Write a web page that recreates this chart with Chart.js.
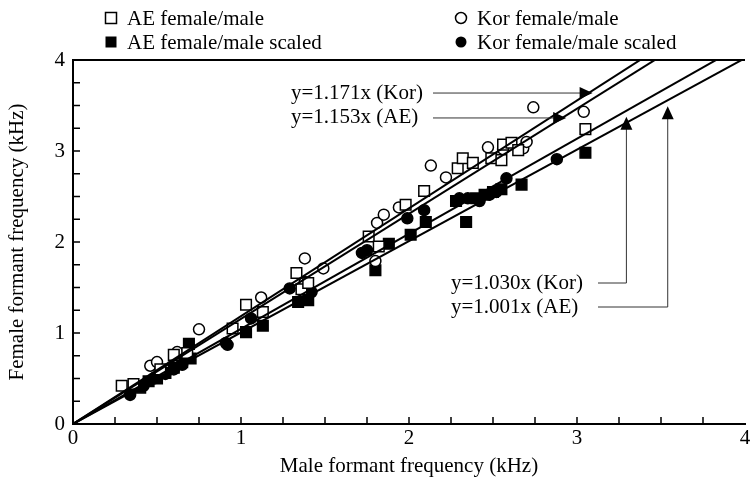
<!DOCTYPE html>
<html>
<head>
<meta charset="utf-8">
<script src="https://cdn.jsdelivr.net/npm/chart.js@4"></script>
<style>
  html, body { margin: 0; padding: 0; background: #fff; }
  #wrap { width: 754px; height: 485px; }
</style>
</head>
<body>
<div id="wrap"><canvas id="chart" width="754" height="485"></canvas></div>
<script>
// --- Data (kHz) ---
const aeRaw = [
    [0.29, 0.42], [0.36, 0.44], [0.52, 0.60], [0.60, 0.76], [0.68, 0.78],
    [0.95, 1.05], [1.03, 1.31], [1.13, 1.23], [1.33, 1.66], [1.36, 1.48],
    [1.40, 1.55], [1.76, 2.06], [1.82, 1.95], [1.98, 2.41], [2.09, 2.56],
    [2.29, 2.81], [2.32, 2.92], [2.38, 2.87], [2.49, 2.92], [2.55, 2.90],
    [2.56, 3.07], [2.61, 3.09], [2.65, 3.01], [3.05, 3.24]
];
const korRaw = [
    [0.46, 0.64], [0.50, 0.68], [0.62, 0.79], [0.75, 1.04], [1.12, 1.39],
    [1.38, 1.82], [1.38, 1.56], [1.49, 1.71], [1.80, 1.79], [1.81, 2.21],
    [1.85, 2.30], [1.94, 2.38], [2.13, 2.84], [2.22, 2.71], [2.47, 3.04],
    [2.56, 3.02], [2.68, 3.03], [2.70, 3.10], [2.74, 3.48], [3.04, 3.43]
];
const aeScaled = [
    [0.40, 0.40], [0.45, 0.47], [0.50, 0.50], [0.55, 0.56], [0.60, 0.62],
    [0.65, 0.68], [0.70, 0.72], [0.69, 0.88], [1.03, 1.01], [1.13, 1.08],
    [1.34, 1.34], [1.40, 1.36], [1.80, 1.69], [1.88, 1.98], [2.01, 2.08],
    [2.10, 2.22], [2.28, 2.45], [2.34, 2.22], [2.40, 2.48], [2.45, 2.52],
    [2.50, 2.55], [2.55, 2.58], [2.67, 2.63], [3.05, 2.98]
];
const korScaled = [
    [0.34, 0.32], [0.42, 0.42], [0.48, 0.50], [0.55, 0.55], [0.60, 0.60],
    [0.65, 0.65], [0.91, 0.89], [0.92, 0.87], [1.06, 1.16], [1.29, 1.49],
    [1.42, 1.45], [1.72, 1.88], [1.75, 1.91], [1.99, 2.26], [2.09, 2.35],
    [2.30, 2.48], [2.35, 2.48], [2.42, 2.45], [2.48, 2.52], [2.52, 2.55],
    [2.58, 2.70], [2.88, 2.91]
];

// fitted lines as drawn (slope of y = a*x)
const fitSlopes = [1.185, 1.155, 1.045, 1.005];
const fitLabels = ['y=1.171x (Kor)', 'y=1.153x (AE)', 'y=1.030x (Kor)', 'y=1.001x (AE)'];
const axisTicks = [0, 1, 2, 3, 4];

const FONT = '"Liberation Serif", "DejaVu Serif", serif';
const FSIZE = 21;

const toPts = arr => arr.map(([x, y]) => ({ x, y }));
const fitLine = a => [{ x: 0, y: 0 }, { x: 4.2, y: 4.2 * a }];

// --- Extra drawing: frame, inward ticks, legend, callouts ---
const decorPlugin = {
    id: 'decor',
    afterDraw(chart) {
        const { ctx, chartArea: area, scales } = chart;
        const xs = scales.x, ys = scales.y;
        ctx.save();
        ctx.strokeStyle = '#000';
        ctx.fillStyle = '#000';

        // top frame line
        ctx.lineWidth = 2;
        ctx.beginPath();
        ctx.moveTo(area.left, area.top);
        ctx.lineTo(area.right, area.top);
        ctx.stroke();

        // inward ticks every 0.25
        ctx.lineWidth = 1.5;
        for (let v = 0.25; v < 4; v += 0.25) {
            const px = xs.getPixelForValue(v);
            const py = ys.getPixelForValue(v);
            ctx.beginPath();
            ctx.moveTo(px, area.bottom);
            ctx.lineTo(px, area.bottom - 7);
            ctx.moveTo(area.left, py);
            ctx.lineTo(area.left + 7, py);
            ctx.stroke();
        }

        // legend
        ctx.font = FSIZE + 'px ' + FONT;
        ctx.textBaseline = 'middle';
        ctx.textAlign = 'left';
        const legend = [
            { label: 'AE female/male', x: 111, y: 18, shape: 'rect', fill: false },
            { label: 'AE female/male scaled', x: 111, y: 42, shape: 'rect', fill: true },
            { label: 'Kor female/male', x: 461, y: 18, shape: 'circle', fill: false },
            { label: 'Kor female/male scaled', x: 461, y: 42, shape: 'circle', fill: true }
        ];
        legend.forEach(item => {
            ctx.beginPath();
            ctx.lineWidth = 1.5;
            if (item.shape === 'rect') {
                ctx.rect(item.x - 5.5, item.y - 5.5, 11, 11);
            } else {
                ctx.arc(item.x, item.y, 5.5, 0, Math.PI * 2);
            }
            if (item.fill) ctx.fill(); else ctx.stroke();
            ctx.fillText(item.label, item.x + 16, item.y + 1);
        });

        // callouts pointing at the fitted lines
        const arrowHead = (tx, ty, dir) => {
            ctx.beginPath();
            if (dir === 'right') {
                ctx.moveTo(tx, ty);
                ctx.lineTo(tx - 13, ty - 6);
                ctx.lineTo(tx - 13, ty + 6);
            } else {
                ctx.moveTo(tx, ty);
                ctx.lineTo(tx - 6, ty + 13);
                ctx.lineTo(tx + 6, ty + 13);
            }
            ctx.closePath();
            ctx.fill();
        };
        ctx.lineWidth = 1;
        ctx.strokeStyle = '#333';

        // horizontal arrows (upper pair), anchored at a y value
        [[0, 3.637], [1, 3.363]].forEach(([i, yv]) => {
            const py = ys.getPixelForValue(yv);
            const tx = xs.getPixelForValue(yv / fitSlopes[i]) + 4;
            ctx.fillText(fitLabels[i], 291, py);
            ctx.beginPath();
            ctx.moveTo(433, py);
            ctx.lineTo(tx - 10, py);
            ctx.stroke();
            arrowHead(tx, py, 'right');
        });

        // elbow arrows (lower pair), anchored at an x value
        [[2, 3.294, 283], [3, 3.54, 307]].forEach(([i, xv, ly]) => {
            const px = xs.getPixelForValue(xv);
            const ty = ys.getPixelForValue(xv * fitSlopes[i]) + 6;
            ctx.fillText(fitLabels[i], 451, ly);
            ctx.beginPath();
            ctx.moveTo(598, ly);
            ctx.lineTo(px, ly);
            ctx.lineTo(px, ty + 10);
            ctx.stroke();
            arrowHead(px, ty, 'up');
        });

        ctx.restore();
    }
};

const pointSet = (data, style, filled, radius) => ({
    data: toPts(data),
    showLine: false,
    pointStyle: style,
    pointRadius: radius,
    pointBorderWidth: 1.5,
    pointBorderColor: '#000',
    pointBackgroundColor: filled ? '#000' : '#fff',
    order: 2
});

const lineSet = a => ({
    data: fitLine(a),
    showLine: true,
    borderColor: '#000',
    borderWidth: 2,
    pointRadius: 0,
    order: 1
});

new Chart(document.getElementById('chart'), {
    type: 'scatter',
    data: {
        datasets: [
            ...fitSlopes.map(lineSet),
            pointSet(aeRaw, 'rect', false, 7.5),
            pointSet(korRaw, 'circle', false, 5.5),
            pointSet(aeScaled, 'rect', true, 7.5),
            pointSet(korScaled, 'circle', true, 5.5)
        ]
    },
    options: {
        responsive: false,
        animation: false,
        layout: { padding: { top: 60, left: 0, right: 0, bottom: 0 } },
        plugins: {
            legend: { display: false },
            tooltip: { enabled: false }
        },
        scales: {
            x: {
                type: 'linear',
                min: 0,
                max: 4,
                afterBuildTicks: s => { s.ticks = axisTicks.map(v => ({ value: v })); },
                afterFit: s => { s.height = 61; s.paddingLeft = 0; s.paddingRight = 0; },
                grid: { display: false, drawTicks: false },
                border: { display: true, width: 2, color: '#000' },
                ticks: { color: '#000', font: { family: FONT, size: FSIZE }, padding: 2, maxRotation: 0 },
                title: {
                    display: true,
                    text: 'Male formant frequency (kHz)',
                    color: '#000',
                    font: { family: FONT, size: FSIZE },
                    padding: { top: 2, bottom: 6 }
                }
            },
            y: {
                type: 'linear',
                min: 0,
                max: 4,
                afterBuildTicks: s => { s.ticks = axisTicks.map(v => ({ value: v })); },
                afterFit: s => { s.width = 73; s.paddingTop = 0; s.paddingBottom = 0; },
                grid: { display: false, drawTicks: false },
                border: { display: true, width: 2, color: '#000' },
                ticks: { color: '#000', font: { family: FONT, size: FSIZE }, padding: 8 },
                title: {
                    display: true,
                    text: 'Female formant frequency (kHz)',
                    color: '#000',
                    font: { family: FONT, size: FSIZE },
                    padding: { top: 5, bottom: 2 }
                }
            }
        }
    },
    plugins: [decorPlugin]
});
</script>
</body>
</html>
